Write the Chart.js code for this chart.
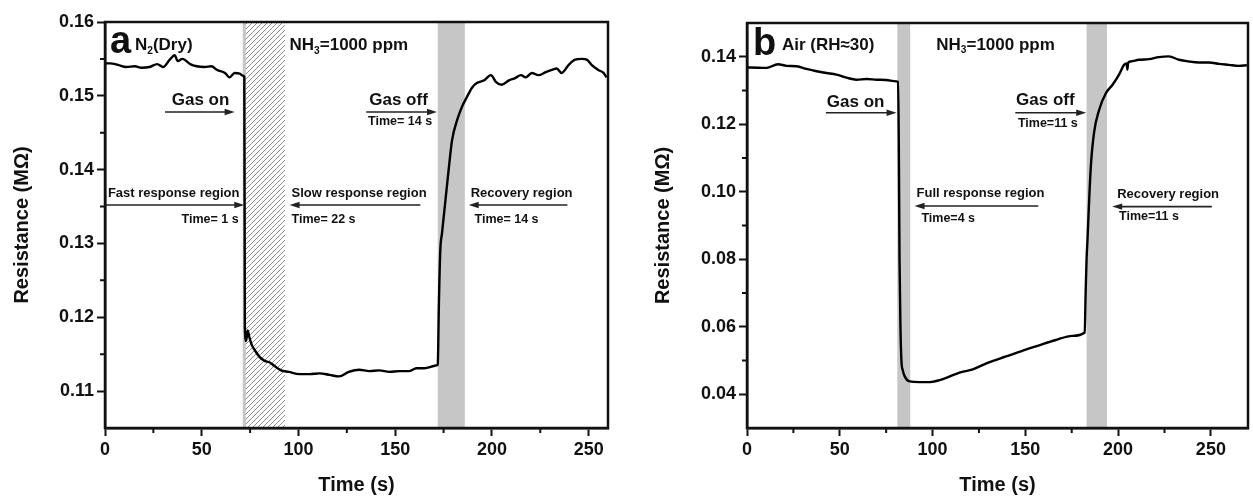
<!DOCTYPE html>
<html>
<head>
<meta charset="utf-8">
<script src="https://cdn.jsdelivr.net/npm/chart.js@4.4.1/dist/chart.umd.min.js"></script>
<style>
  html, body { margin: 0; padding: 0; background: #fff; }
  #wrap { position: relative; width: 1253px; height: 501px; }
  .panel { position: absolute; top: 0; height: 501px; }
</style>
</head>
<body>
<div id="wrap">
  <div class="panel" style="left:0;width:626px"><canvas id="chartA"></canvas></div>
  <div class="panel" style="left:626px;width:627px"><canvas id="chartB"></canvas></div>
</div>
<script>
// ---- panel a: N2 (dry) ----
const timeA = [0, 2.6, 6.7, 11, 15.5, 19, 23, 27, 30, 33.5, 36, 37.6, 40, 44, 47.4, 51.5, 55, 58, 62, 64.4, 67, 69.6, 71.6, 72.0,
  72.3, 73.0, 73.7, 74.7, 75.8, 77.3, 80, 82.5, 85, 87.6, 91, 95, 100.5, 105.7, 111, 116, 121, 126, 131.4, 136.6, 141.8,
  147, 152, 157, 161, 165, 170, 171.6, 172.0, 172.6, 173.3, 174.2, 176, 177.8, 179.4, 182, 184.5, 187, 189.7, 192, 196,
  199.5, 202, 205, 208.8, 212, 215, 217.5, 220.6, 224, 227.8, 231, 233.5, 236, 239.7, 243, 246.5, 249, 251.5, 255, 257.7, 259.3];
const resA = [0.1544, 0.1544, 0.1542, 0.1539, 0.1540, 0.1538, 0.1539, 0.1543, 0.1539, 0.1549, 0.1555, 0.1547, 0.1550, 0.1543,
  0.1540, 0.1539, 0.1540, 0.1535, 0.1531, 0.1525, 0.1531, 0.1530, 0.1527, 0.1526,
  0.1186, 0.1168, 0.1182, 0.1172, 0.1163, 0.1156, 0.1146, 0.1141, 0.1139, 0.1134, 0.1128, 0.1126, 0.1123, 0.1123, 0.1124,
  0.1122, 0.1120, 0.1126, 0.1129, 0.1127, 0.1128, 0.1126, 0.1127, 0.1127, 0.1131, 0.1131, 0.1134, 0.1135, 0.1136, 0.1220,
  0.1290, 0.1314, 0.1359, 0.1404, 0.1440, 0.1467, 0.1485, 0.1498, 0.1511, 0.1517, 0.1521, 0.1528, 0.1519, 0.1515, 0.1521,
  0.1524, 0.1528, 0.1525, 0.1531, 0.1528, 0.1532, 0.1535, 0.1537, 0.1531, 0.1542, 0.1549, 0.1550, 0.1549, 0.1542, 0.1535,
  0.1531, 0.1525];
const xTicksA = [0, 50, 100, 150, 200, 250];
const xMinorA = [25, 75, 125, 175, 225];
const yTicksA = [0.11, 0.12, 0.13, 0.14, 0.15, 0.16];
const yMinorA = [0.115, 0.125, 0.135, 0.145, 0.155];
const hatchA = [72, 93];
const shadeA = [[172, 186]];

// ---- panel b: air (RH 30) ----
const timeB = [0, 1.6, 10.6, 16.7, 21.3, 26.7, 32, 37.5, 42.8, 48.2, 53.6, 59, 64.4, 69.7, 75, 80.5, 81.4, 81.8, 82.2, 82.7,
  83.2, 84, 85, 87.6, 93, 98.4, 103.8, 109, 114.5, 121.7, 130, 139.6, 148, 157.5, 166, 175.4, 182, 182.5, 183.0, 183.5,
  184.4, 185.3, 187, 189.8, 193.4, 197, 200.5, 203.2, 204.6, 205, 205.4, 206.8, 211.3, 216.7, 222, 227.4, 232.8, 238,
  243.5, 249, 254.3, 259.7, 265, 269.4];
const resB = [0.1368, 0.1368, 0.1367, 0.1378, 0.1373, 0.1372, 0.1364, 0.1357, 0.1352, 0.1347, 0.1338, 0.1332, 0.1334, 0.1332,
  0.1331, 0.1327, 0.1326, 0.1150, 0.0800, 0.0600, 0.0502, 0.0470, 0.0453, 0.0438, 0.0436, 0.0436, 0.0442, 0.0452, 0.0464,
  0.0474, 0.0494, 0.0512, 0.0528, 0.0545, 0.0560, 0.0573, 0.0583, 0.0700, 0.0800, 0.0858, 0.0976, 0.1075, 0.1174, 0.1243,
  0.1292, 0.1317, 0.1347, 0.1376, 0.1380, 0.1362, 0.1382, 0.1386, 0.1391, 0.1393, 0.1399, 0.1401, 0.1391, 0.1386, 0.1383,
  0.1383, 0.1379, 0.1376, 0.1373, 0.1375];
const xTicksB = [0, 50, 100, 150, 200, 250];
const xMinorB = [25, 75, 125, 175, 225];
const yTicksB = [0.04, 0.06, 0.08, 0.10, 0.12, 0.14];
const yMinorB = [0.05, 0.07, 0.09, 0.11, 0.13];
const shadeB = [[81, 88], [183, 194]];

const FONT = "'Liberation Sans', Arial, sans-serif";
const INK = '#111';

// text pieces: [text, isSubscript]
const notesA = [
  { s: [['a']], t: 2.6, v: 0.1558, size: 38 },
  { s: [['N'], ['2', 1], ['(Dry)']], t: 15.5, v: 0.1562, size: 17 },
  { s: [['NH'], ['3', 1], ['=1000 ppm']], t: 95.4, v: 0.1562, size: 17 },
  { s: [['Gas on']], t: 34.5, v: 0.14875, size: 17 },
  { s: [['Gas off']], t: 136.6, v: 0.14875, size: 17 },
  { s: [['Time= 14 s']], t: 136, v: 0.1460, size: 12.5 },
  { s: [['Fast response region']], t: 1.5, v: 0.1363, size: 13 },
  { s: [['Time= 1 s']], t: 39.6, v: 0.1328, size: 12.5 },
  { s: [['Slow response region']], t: 96.4, v: 0.1363, size: 13 },
  { s: [['Time= 22 s']], t: 96.4, v: 0.1328, size: 12.5 },
  { s: [['Recovery region']], t: 189, v: 0.1363, size: 13 },
  { s: [['Time= 14 s']], t: 191, v: 0.1328, size: 12.5 }
];
const arrowsA = [[31, 67, 0.1478], [135, 171.6, 0.1478], [0, 72, 0.1352], [163, 95.4, 0.1352], [239, 188, 0.1352]];

const notesB = [
  { s: [['b']], t: 3.2, v: 0.1406, size: 38 },
  { s: [['Air (RH≈30)']], t: 18.8, v: 0.1421, size: 17 },
  { s: [['NH'], ['3', 1], ['=1000 ppm']], t: 102, v: 0.1421, size: 17 },
  { s: [['Gas on']], t: 43, v: 0.1252, size: 17 },
  { s: [['Gas off']], t: 145, v: 0.1258, size: 17 },
  { s: [['Time=11 s']], t: 146, v: 0.1193, size: 12.5 },
  { s: [['Full response region']], t: 91.4, v: 0.0985, size: 13 },
  { s: [['Time=4 s']], t: 94, v: 0.0911, size: 12.5 },
  { s: [['Recovery region']], t: 199.5, v: 0.0982, size: 13 },
  { s: [['Time=11 s']], t: 200.5, v: 0.0917, size: 12.5 }
];
const arrowsB = [[42.5, 80.6, 0.1234], [144.6, 182.8, 0.1234], [157, 90.3, 0.0958], [250.5, 196.8, 0.0956]];

function hatchPattern(ctx) {
  const c = document.createElement('canvas');
  c.width = 5; c.height = 5;
  const g = c.getContext('2d');
  g.fillStyle = '#fff'; g.fillRect(0, 0, 5, 5);
  g.strokeStyle = '#8a8a8a'; g.lineWidth = 1;
  g.beginPath();
  g.moveTo(0, 5); g.lineTo(5, 0);
  g.moveTo(-1, 1); g.lineTo(1, -1);
  g.moveTo(4, 6); g.lineTo(6, 4);
  g.stroke();
  return ctx.createPattern(c, 'repeat');
}

function makeDecor(cfg) {
  return {
    id: 'decor',
    beforeDatasetsDraw(chart) {
      const { ctx, chartArea: a, scales: { x } } = chart;
      ctx.save();
      (cfg.shade || []).forEach(([f, t]) => {
        ctx.fillStyle = '#c6c6c6';
        ctx.fillRect(x.getPixelForValue(f), a.top, x.getPixelForValue(t) - x.getPixelForValue(f), a.bottom - a.top);
      });
      if (cfg.hatch) {
        const x0 = x.getPixelForValue(cfg.hatch[0]), x1 = x.getPixelForValue(cfg.hatch[1]);
        ctx.fillStyle = hatchPattern(ctx);
        ctx.fillRect(x0, a.top, x1 - x0, a.bottom - a.top);
        ctx.fillStyle = '#c6c6c6';
        ctx.fillRect(x0 - 1.5, a.top, 3, a.bottom - a.top);
      }
      ctx.restore();
    },
    afterDraw(chart) {
      const { ctx, chartArea: a, scales: { x, y } } = chart;
      ctx.save();
      // minor ticks
      ctx.strokeStyle = INK; ctx.lineWidth = 2;
      ctx.beginPath();
      cfg.xMinor.forEach(v => { const p = x.getPixelForValue(v); ctx.moveTo(p, a.bottom); ctx.lineTo(p, a.bottom + 5); });
      cfg.yMinor.forEach(v => { const p = y.getPixelForValue(v); ctx.moveTo(a.left, p); ctx.lineTo(a.left - 5, p); });
      ctx.stroke();
      // frame
      ctx.lineWidth = 2.5;
      ctx.strokeRect(a.left, a.top, a.right - a.left, a.bottom - a.top);
      // arrows
      ctx.strokeStyle = '#222'; ctx.fillStyle = '#222'; ctx.lineWidth = 1.6;
      cfg.arrows.forEach(([t1, t2, v]) => {
        const p1 = x.getPixelForValue(t1), p2 = x.getPixelForValue(t2), py = y.getPixelForValue(v);
        const dir = Math.sign(p2 - p1);
        ctx.beginPath(); ctx.moveTo(p1, py); ctx.lineTo(p2 - dir * 6, py); ctx.stroke();
        ctx.beginPath(); ctx.moveTo(p2, py); ctx.lineTo(p2 - dir * 10, py - 3.2); ctx.lineTo(p2 - dir * 10, py + 3.2);
        ctx.closePath(); ctx.fill();
      });
      // labels
      ctx.fillStyle = INK; ctx.textBaseline = 'alphabetic'; ctx.textAlign = 'left';
      cfg.notes.forEach(n => {
        let cx = x.getPixelForValue(n.t);
        const cy = y.getPixelForValue(n.v);
        n.s.forEach(([str, sub]) => {
          const sz = sub ? n.size * 0.6 : n.size;
          ctx.font = `bold ${sz}px ${FONT}`;
          ctx.fillText(str, cx, sub ? cy + n.size * 0.22 : cy);
          cx += ctx.measureText(str).width;
        });
      });
      ctx.restore();
    }
  };
}

function makeChart(id, xs, ys, o) {
  const pts = xs.map((t, i) => ({ x: t, y: ys[i] }));
  return new Chart(document.getElementById(id), {
    type: 'line',
    data: { datasets: [{ data: pts, borderColor: '#000', borderWidth: 2.4, pointRadius: 0, cubicInterpolationMode: 'monotone' }] },
    options: {
      responsive: true, maintainAspectRatio: false, animation: false,
      layout: { padding: o.pad },
      plugins: { legend: { display: false }, tooltip: { enabled: false } },
      scales: {
        x: {
          type: 'linear', min: 0, max: o.xMax,
          afterBuildTicks: s => { s.ticks = o.xTicks.map(v => ({ value: v })); },
          afterFit: s => { s.height = 73; },
          grid: { drawOnChartArea: false, tickLength: 8, tickWidth: 2, tickColor: INK },
          border: { color: INK, width: 2.5 },
          ticks: { color: INK, padding: 3, maxRotation: 0, font: { family: FONT, size: 18, weight: 'bold' } },
          title: { display: true, text: 'Time (s)', color: INK, padding: { bottom: 4 }, font: { family: FONT, size: 20, weight: 'bold' } }
        },
        y: {
          min: o.yMin, max: o.yMax,
          afterBuildTicks: s => { s.ticks = o.yTicks.map(v => ({ value: v })); },
          afterFit: s => { s.width = o.yWidth; },
          grid: { drawOnChartArea: false, tickLength: 8, tickWidth: 2, tickColor: INK },
          border: { color: INK, width: 2.5 },
          ticks: { color: INK, padding: 3, callback: v => v.toFixed(2), font: { family: FONT, size: 18, weight: 'bold' } },
          title: { display: true, text: 'Resistance (MΩ)', color: INK, padding: { top: o.titlePad }, font: { family: FONT, size: 20, weight: 'bold' } }
        }
      }
    },
    plugins: [makeDecor(o)]
  });
}

makeChart('chartA', timeA, resA, {
  xMax: 260, yMin: 0.105, yMax: 0.16, xTicks: xTicksA, yTicks: yTicksA, xMinor: xMinorA, yMinor: yMinorA,
  hatch: hatchA, shade: shadeA, notes: notesA, arrows: arrowsA,
  pad: { top: 22, right: 18, left: 0, bottom: 0 }, yWidth: 105, titlePad: 10
});
makeChart('chartB', timeB, resB, {
  xMax: 270, yMin: 0.03, yMax: 0.15, xTicks: xTicksB, yTicks: yTicksB, xMinor: xMinorB, yMinor: yMinorB,
  shade: shadeB, notes: notesB, arrows: arrowsB,
  pad: { top: 23, right: 5, left: 0, bottom: 0 }, yWidth: 121, titlePad: 25
});
</script>
</body>
</html>
